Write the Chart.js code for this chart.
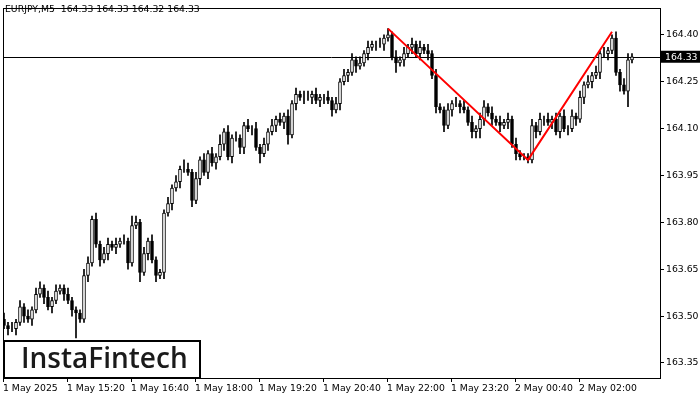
<!DOCTYPE html>
<html>
<head>
<meta charset="utf-8">
<script src="https://cdn.jsdelivr.net/npm/chart.js@4"></script>
<style>
  html, body { margin: 0; padding: 0; background: #fff; }
  #wrap { width: 700px; height: 400px; }
</style>
</head>
<body>
<div id="wrap"><canvas id="chart"></canvas></div>
<script>
/* ---------- Data ---------- */
const firstOpen = 163.49;
const closes = [
  163.47,163.46,163.46,163.48,163.53,163.50,163.49,163.52,163.57,163.59,
  163.56,163.53,163.55,163.58,163.59,163.57,163.55,163.52,163.51,163.49,
  163.63,163.67,163.81,163.73,163.68,163.70,163.73,163.72,163.73,163.74,
  163.74,163.67,163.79,163.80,163.64,163.70,163.74,163.68,163.63,163.64,
  163.83,163.86,163.91,163.93,163.97,163.97,163.96,163.87,163.94,164.00,
  163.96,164.02,163.99,164.01,164.05,164.09,164.01,164.07,164.07,164.04,
  164.11,164.10,164.10,164.04,164.02,164.05,164.09,164.11,164.13,164.12,
  164.14,164.08,164.18,164.21,164.20,164.20,164.20,164.21,164.19,164.20,
  164.20,164.19,164.16,164.18,164.25,164.27,164.28,164.32,164.30,164.31,
  164.34,164.36,164.37,164.37,164.37,164.39,164.40,164.33,164.31,164.32,
  164.34,164.36,164.37,164.34,164.36,164.35,164.34,164.27,164.17,164.16,
  164.11,164.16,164.18,164.18,164.17,164.16,164.12,164.09,164.10,164.13,
  164.17,164.15,164.13,164.12,164.11,164.12,164.13,164.05,164.02,164.01,
  164.01,164.00,164.11,164.09,164.13,164.13,164.12,164.13,164.09,164.14,
  164.10,164.10,164.14,164.13,164.20,164.24,164.25,164.27,164.28,164.34,
  164.34,164.35,164.39,164.28,164.24,164.22,164.32,164.33
];
// wick lengths beyond the body, in 0.01
const wickUp = [
  2,1,2,1,2,1,2,1,2,2, 1,2,1,2,1,1,2,1,1,1, 2,2,1,2,1,2,2,1,2,1, 2,1,3,2,1,2,1,2,1,1,
  1,2,1,2,1,3,2,1,2,1, 2,1,2,1,3,1,2,1,2,1, 1,2,1,2,1,2,1,2,1,2, 1,2,1,2,1,2,2,1,2,1,
  1,2,1,2,1,2,1,2,1,2, 1,2,1,1,2,1,2,1,2,1, 2,1,2,1,2,1,2,1,2,1, 1,2,1,2,1,2,1,2,1,2,
  2,1,2,1,2,1,2,1,2,1, 1,1,2,1,2,1,2,1,2,1, 2,1,2,1,2,1,2,1,2,1, 2,1,1,2,1,2,2,1
];
const wickDn = [
  1,2,1,2,1,2,1,2,1,1, 2,1,2,1,1,2,1,2,8,1, 1,2,1,1,2,1,2,1,2,1, 1,2,1,1,3,1,2,1,2,1,
  2,1,2,1,2,1,1,2,1,2, 1,2,1,2,1,2,1,2,1,2, 2,1,2,1,3,1,2,1,2,1, 2,3,1,2,1,2,1,2,1,2,
  2,1,2,1,2,1,2,1,2,1, 1,2,1,2,1,2,1,1,3,1, 2,1,2,1,2,1,2,1,2,1, 2,1,2,1,2,1,1,2,2,3,
  2,1,2,1,2,1,2,1,2,1, 1,1,1,2,1,2,1,2,1,2, 1,2,1,2,1,2,1,2,1,2, 1,2,1,1,2,1,5,1
];
const yTicks = [163.35, 163.50, 163.65, 163.80, 163.95, 164.10, 164.25, 164.40];
const xTickLabels = ['1 May 2025','1 May 15:20','1 May 16:40','1 May 18:00','1 May 19:20',
  '1 May 20:40','1 May 22:00','1 May 23:20','2 May 00:40','2 May 02:00'];
const patternIdx = [96, 131, 152];
const patternPrice = [164.42, 164.00, 164.41];
const lastPrice = 164.33;
const title = 'EURJPY,M5  164.33 164.33 164.32 164.33';

/* ---------- Build datasets ---------- */
const opens = closes.map((c, i) => i === 0 ? firstOpen : closes[i - 1]);
const bodies = closes.map((c, i) => ({ x: i, y: [opens[i], c] }));
const wicks = closes.map((c, i) => ({
  x: i,
  y: [Math.min(opens[i], c) - wickDn[i] / 100, Math.max(opens[i], c) + wickUp[i] / 100]
}));
const bodyFill = closes.map((c, i) => c >= opens[i] ? '#ffffff' : '#000000');

const FONT = '"DejaVu Sans", sans-serif';

/* ---------- Overlay plugin ---------- */
const overlay = {
  id: 'overlay',
  beforeDatasetsDraw(chart) {
    const { ctx, chartArea: a, scales: { y } } = chart;
    const py = Math.round(y.getPixelForValue(lastPrice)) + 0.5;
    ctx.save();
    ctx.strokeStyle = '#000'; ctx.lineWidth = 1;
    ctx.beginPath(); ctx.moveTo(a.left, py); ctx.lineTo(a.right, py); ctx.stroke();
    ctx.restore();
  },
  afterDraw(chart) {
    const { ctx, chartArea: a, scales: { y } } = chart;
    ctx.save();
    // frame
    ctx.strokeStyle = '#000'; ctx.lineWidth = 1;
    ctx.strokeRect(a.left + 0.5, a.top + 0.5, a.right - a.left, a.bottom - a.top);
    // title
    ctx.fillStyle = '#000';
    ctx.font = '9.3px ' + FONT;
    ctx.textBaseline = 'top';
    ctx.fillText(title, 5, 5);
    // price label
    const py = y.getPixelForValue(lastPrice);
    ctx.fillStyle = '#000';
    ctx.fillRect(a.right + 1, py - 6, 39, 12);
    ctx.fillStyle = '#fff';
    ctx.textBaseline = 'middle';
    ctx.fillText(lastPrice.toFixed(2), a.right + 5, py + 0.5);
    // logo
    ctx.fillStyle = '#fff';
    ctx.fillRect(3, 340, 198, 38);
    ctx.strokeStyle = '#000'; ctx.lineWidth = 2;
    ctx.strokeRect(4, 341, 196, 37);
    ctx.fillStyle = '#1a1a1a';
    ctx.font = '600 28px "Open Sans", sans-serif';
    ctx.textBaseline = 'middle';
    ctx.fillText('InstaFintech', 21, 360);
    ctx.restore();
  }
};

/* ---------- Chart ---------- */
new Chart(document.getElementById('chart'), {
  type: 'bar',
  data: {
    datasets: [
      {
        type: 'line',
        data: patternIdx.map((x, i) => ({ x, y: patternPrice[i] })),
        borderColor: '#ff0000', borderWidth: 2, pointRadius: 0, order: 0
      },
      {
        data: wicks, backgroundColor: '#000', borderWidth: 0,
        barThickness: 1, grouped: false, order: 2
      },
      {
        data: bodies, backgroundColor: bodyFill, borderColor: '#000', borderWidth: 1,
        borderSkipped: false, barThickness: 3, grouped: false, order: 1
      }
    ]
  },
  options: {
    responsive: true, maintainAspectRatio: false, animation: false,
    layout: { padding: { left: 3, top: 8, right: 0, bottom: 0 } },
    plugins: { legend: { display: false }, tooltip: { enabled: false } },
    scales: {
      x: {
        type: 'linear', min: -0.25, max: 164, offset: false,
        afterFit(s) { s.height = 22; },
        afterBuildTicks(s) { s.ticks = xTickLabels.map((_, i) => ({ value: i * 16 - 0.25 })); },
        grid: { drawOnChartArea: false, drawTicks: true, tickLength: 4, color: '#000', offset: false },
        border: { display: false },
        ticks: {
          autoSkip: false, maxRotation: 0, align: 'start', padding: 1,
          color: '#000', font: { size: 9.3, family: 'DejaVu Sans' },
          callback: (v, i) => xTickLabels[i] || ''
        }
      },
      y: {
        position: 'right', min: 163.302, max: 164.486,
        afterFit(s) { s.width = 40; },
        afterBuildTicks(s) { s.ticks = yTicks.map(v => ({ value: v })); },
        grid: { drawOnChartArea: false, drawTicks: true, tickLength: 4, color: '#000' },
        border: { display: false },
        ticks: {
          padding: 2, color: '#000', font: { size: 9.3, family: 'DejaVu Sans' },
          callback: v => v.toFixed(2)
        }
      }
    }
  },
  plugins: [overlay]
});
</script>
</body>
</html>
